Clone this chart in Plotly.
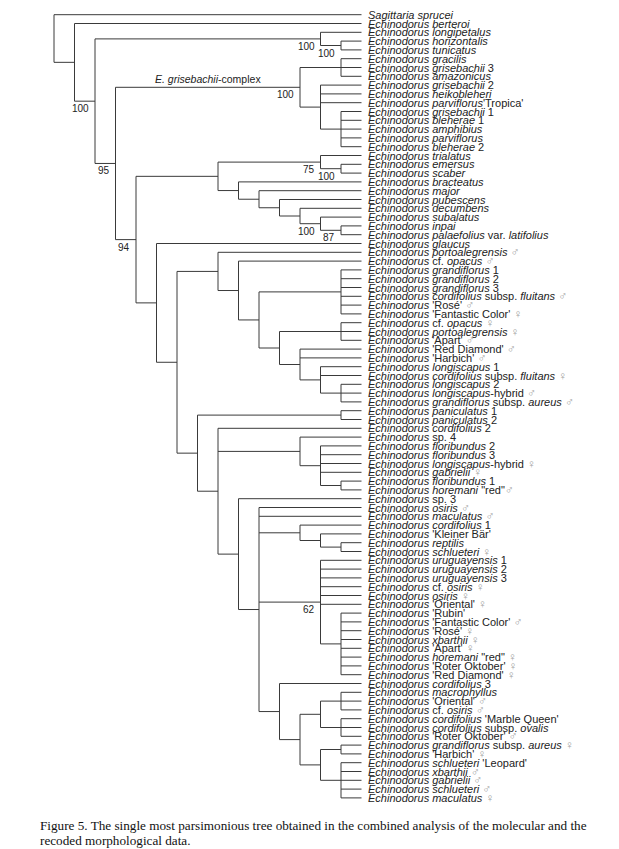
import plotly.graph_objects as go

# taxa in tree order (1-based numbers used in the tree string below)
TAXA = [
    "<i>Sagittaria sprucei</i>",
    "<i>Echinodorus berteroi</i>",
    "<i>Echinodorus longipetalus</i>",
    "<i>Echinodorus horizontalis</i>",
    "<i>Echinodorus tunicatus</i>",
    "<i>Echinodorus gracilis</i>",
    "<i>Echinodorus grisebachii</i> 3",
    "<i>Echinodorus amazonicus</i>",
    "<i>Echinodorus grisebachii</i> 2",
    "<i>Echinodorus heikobleheri</i>",
    "<i>Echinodorus parviflorus</i>'Tropica'",
    "<i>Echinodorus grisebachii</i> 1",
    "<i>Echinodorus bleherae</i> 1",
    "<i>Echinodorus amphibius</i>",
    "<i>Echinodorus parviflorus</i>",
    "<i>Echinodorus bleherae</i> 2",
    "<i>Echinodorus trialatus</i>",
    "<i>Echinodorus emersus</i>",
    "<i>Echinodorus scaber</i>",
    "<i>Echinodorus bracteatus</i>",
    "<i>Echinodorus major</i>",
    "<i>Echinodorus pubescens</i>",
    "<i>Echinodorus decumbens</i>",
    "<i>Echinodorus subalatus</i>",
    "<i>Echinodorus inpai</i>",
    "<i>Echinodorus palaefolius</i> var. <i>latifolius</i>",
    "<i>Echinodorus glaucus</i>",
    "<i>Echinodorus portoalegrensis</i> ♂",
    "<i>Echinodorus</i> cf. <i>opacus</i> ♂",
    "<i>Echinodorus grandiflorus</i> 1",
    "<i>Echinodorus grandiflorus</i> 2",
    "<i>Echinodorus grandiflorus</i> 3",
    "<i>Echinodorus cordifolius</i> subsp. <i>fluitans</i> ♂",
    "<i>Echinodorus</i> 'Rosé' ♂",
    "<i>Echinodorus</i> 'Fantastic Color' ♀",
    "<i>Echinodorus</i> cf. <i>opacus</i> ♀",
    "<i>Echinodorus portoalegrensis</i> ♀",
    "<i>Echinodorus</i> 'Apart' ♂",
    "<i>Echinodorus</i> 'Red Diamond' ♂",
    "<i>Echinodorus</i> 'Harbich' ♂",
    "<i>Echinodorus longiscapus</i> 1",
    "<i>Echinodorus cordifolius</i> subsp. <i>fluitans</i> ♀",
    "<i>Echinodorus longiscapus</i> 2",
    "<i>Echinodorus longiscapus</i>-hybrid ♂",
    "<i>Echinodorus grandiflorus</i> subsp. <i>aureus</i> ♂",
    "<i>Echinodorus paniculatus</i> 1",
    "<i>Echinodorus paniculatus</i> 2",
    "<i>Echinodorus cordifolius</i> 2",
    "<i>Echinodorus</i> sp. 4",
    "<i>Echinodorus floribundus</i> 2",
    "<i>Echinodorus floribundus</i> 3",
    "<i>Echinodorus longiscapus</i>-hybrid ♀",
    "<i>Echinodorus gabrielii</i> ♀",
    "<i>Echinodorus floribundus</i> 1",
    "<i>Echinodorus horemani</i> \"red\"♂",
    "<i>Echinodorus</i> sp. 3",
    "<i>Echinodorus osiris</i> ♂",
    "<i>Echinodorus maculatus</i> ♂",
    "<i>Echinodorus cordifolius</i> 1",
    "<i>Echinodorus</i> 'Kleiner Bär'",
    "<i>Echinodorus reptilis</i>",
    "<i>Echinodorus schlueteri</i> ♀",
    "<i>Echinodorus uruguayensis</i> 1",
    "<i>Echinodorus uruguayensis</i> 2",
    "<i>Echinodorus uruguayensis</i> 3",
    "<i>Echinodorus</i> cf. <i>osiris</i> ♀",
    "<i>Echinodorus osiris</i> ♀",
    "<i>Echinodorus</i> 'Oriental' ♀",
    "<i>Echinodorus</i> 'Rubin'",
    "<i>Echinodorus</i> 'Fantastic Color' ♂",
    "<i>Echinodorus</i> 'Rosé' ♀",
    "<i>Echinodorus xbarthii</i> ♀",
    "<i>Echinodorus</i> 'Apart' ♀",
    "<i>Echinodorus horemani</i> \"red\" ♀",
    "<i>Echinodorus</i> 'Roter Oktober' ♀",
    "<i>Echinodorus</i> 'Red Diamond' ♀",
    "<i>Echinodorus cordifolius</i> 3",
    "<i>Echinodorus macrophyllus</i>",
    "<i>Echinodorus</i> 'Oriental' ♂",
    "<i>Echinodorus</i> cf. <i>osiris</i> ♂",
    "<i>Echinodorus cordifolius</i> 'Marble Queen'",
    "<i>Echinodorus cordifolius</i> subsp. <i>ovalis</i>",
    "<i>Echinodorus</i> 'Roter Oktober' ♂",
    "<i>Echinodorus grandiflorus</i> subsp. <i>aureus</i> ♀",
    "<i>Echinodorus</i> 'Harbich' ♀",
    "<i>Echinodorus schlueteri</i> 'Leopard'",
    "<i>Echinodorus xbarthii</i> ♂",
    "<i>Echinodorus gabrielii</i> ♂",
    "<i>Echinodorus schlueteri</i> ♂",
    "<i>Echinodorus maculatus</i> ♀",
]

# topology, newick-like, bootstrap support written after ')'
CLADE_C = "(3,(4,5)100)100"
CLADE_GRIS = "((6,7,8),(9,10,11,(12,13,14,15,16)))100"
CLADE_F = "((17,(18,19)100)75,(20,(21,(22,(23,(24,(25,26)87)100)))))"
CLADE_I = "(28,(29,((30,31,32,33,34,35),((36,37,38),(39,40,(41,42,(43,44,45)))))))"
CLADE_R = "(77,(((78,79,80),(81,82,83)),((84,85),(86,87,88,89,90))))"
CLADE_N = ("(57,58,(59,(60,(61,62))),"
           "(63,64,65,66,67,68,(69,70,71,72,73,74,75,76))62," + CLADE_R + ")")
CLADE_K = "(48,(49,(50,51,52,53,(54,55))),(56," + CLADE_N + "))"
CLADE_J = "((46,47)," + CLADE_K + ")"
TREE = ("(1,(2,(" + CLADE_C + ",(" + CLADE_GRIS + ",(" + CLADE_F + ",(27,("
        + CLADE_I + "," + CLADE_J + ")))94)95)100))")

CAPTION = ["Figure 5. The single most parsimonious tree obtained in the combined analysis of the molecular and the",
           "recoded morphological data."]


def parse(s):
    pos = 0

    def number():
        nonlocal pos
        start = pos
        while pos < len(s) and s[pos].isdigit():
            pos += 1
        return int(s[start:pos]) if pos > start else None

    def node():
        nonlocal pos
        if s[pos] == "(":
            pos += 1
            kids = [node()]
            while s[pos] == ",":
                pos += 1
                kids.append(node())
            assert s[pos] == ")"
            pos += 1
            return {"kids": kids, "support": number()}
        return {"leaf": number() - 1}

    root = node()
    assert pos == len(s)
    return root


root = parse(TREE)


def height(n):
    if "leaf" in n:
        n["h"] = 0
    else:
        n["h"] = 1 + max(height(k) for k in n["kids"])
    return n["h"]


height(root)
MAXH = root["h"]


def place(n):
    # tips aligned on the right, each node one step left of its deepest child
    n["x"] = MAXH - n["h"]
    if "leaf" in n:
        n["y"] = n["leaf"]
    else:
        for k in n["kids"]:
            place(k)
        n["y"] = (n["kids"][0]["y"] + n["kids"][-1]["y"]) / 2


place(root)

FONT = "Liberation Sans, Arial"
xs, ys = [], []
annotations = []
leaf_nodes = []


def walk(n):
    if "leaf" in n:
        leaf_nodes.append(n)
        return
    xs.extend([n["x"], n["x"], None])
    ys.extend([n["kids"][0]["y"], n["kids"][-1]["y"], None])
    for k in n["kids"]:
        xs.extend([n["x"], k["x"], None])
        ys.extend([k["y"], k["y"], None])
        walk(k)
    if n["support"] is not None:
        annotations.append(dict(
            x=n["x"], y=n["y"], xref="x", yref="y", text=str(n["support"]),
            showarrow=False, xanchor="right", yanchor="top", xshift=-4, yshift=0,
            font=dict(family=FONT, size=10, color="#222")))


walk(root)

fig = go.Figure()
fig.add_trace(go.Scatter(x=xs, y=ys, mode="lines", line=dict(color="#3a3a3a", width=1),
                         hoverinfo="skip", showlegend=False))

for n in leaf_nodes:
    txt = TAXA[n["leaf"]]
    txt = txt.replace("♂", "<span style='color:#a0a0a0;font-size:12px'>♂</span>")
    txt = txt.replace("♀", "<span style='color:#a0a0a0;font-size:12px'>♀</span>")
    annotations.append(dict(
        x=n["x"], y=n["y"], xref="x", yref="y", text=txt, showarrow=False,
        xanchor="left", yanchor="middle", xshift=4,
        font=dict(family=FONT, size=11, color="#222")))

# label above the grisebachii-complex stem
parent = root["kids"][1]["kids"][1]["kids"][1]
gris = parent["kids"][0]
annotations.append(dict(
    x=(gris["x"] + parent["x"]) / 2, y=gris["y"], xref="x", yref="y",
    text="<i>E. grisebachii</i>-complex", showarrow=False,
    xanchor="center", yanchor="bottom", yshift=0,
    font=dict(family=FONT, size=10.5, color="#222")))

for i, line in enumerate(CAPTION):
    annotations.append(dict(
        x=30 / 619, y=1 - (817 + 15 * i) / 849, xref="paper", yref="paper",
        text=line, showarrow=False, xanchor="left", yanchor="middle",
        font=dict(family="Liberation Serif, Times New Roman", size=13.2, color="#111")))

PX_RANK, X_ORIGIN = 20.5, 46
PX_LEAF, Y_ORIGIN = 8.8, 6.7
W, H = 619, 849

fig.update_layout(
    width=W, height=H, margin=dict(l=0, r=0, t=0, b=0),
    paper_bgcolor="white", plot_bgcolor="white",
    xaxis=dict(range=[-X_ORIGIN / PX_RANK, (W - X_ORIGIN) / PX_RANK], visible=False),
    yaxis=dict(range=[(H - Y_ORIGIN) / PX_LEAF, -Y_ORIGIN / PX_LEAF], visible=False),
    annotations=annotations,
)

fig.write_html("out.html")
